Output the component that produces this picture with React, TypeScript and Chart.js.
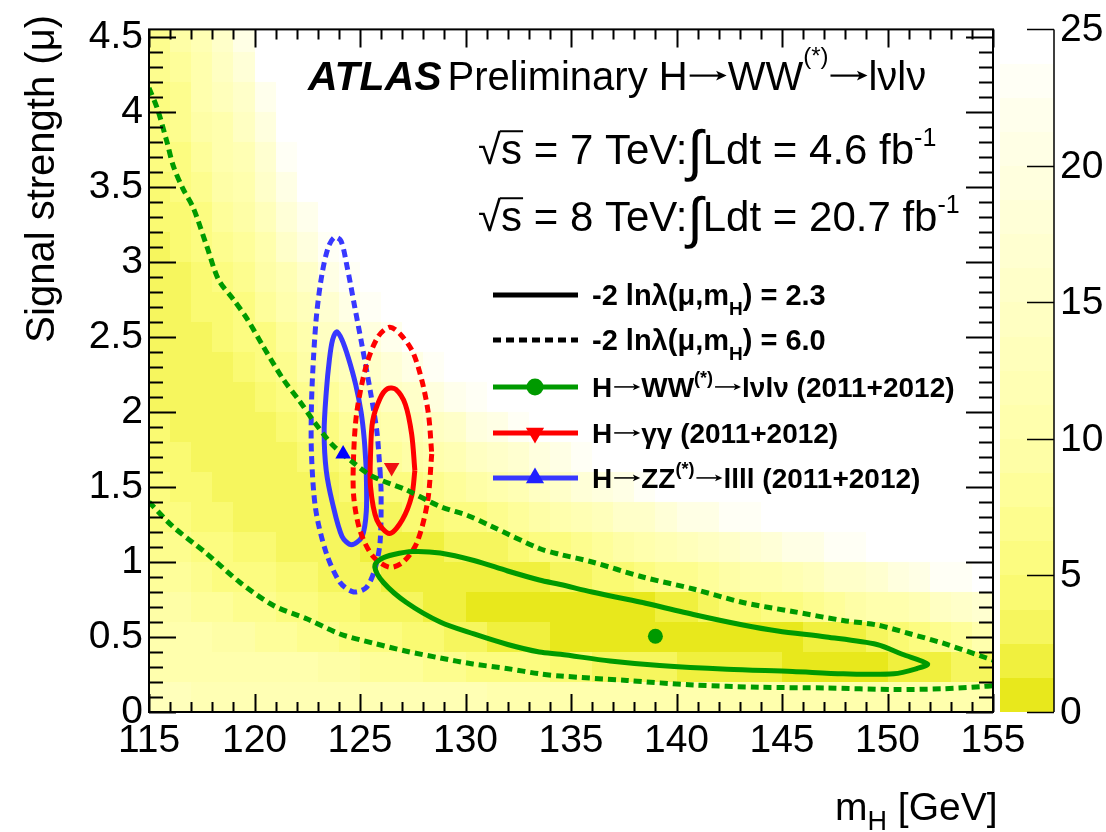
import React, { useEffect, useRef } from 'react';
import { Chart, registerables } from 'chart.js';

Chart.register(...registerables);

const FONT = "'Liberation Sans', Arial, Helvetica, sans-serif";

// ---------------- axes ----------------
const xRange = [115, 155];
const yRange = [0, 4.55];
const zRange = [0, 25];
const xMajorTicks = [115, 120, 125, 130, 135, 140, 145, 150, 155];
const yMajorTicks = [0, 0.5, 1, 1.5, 2, 2.5, 3, 3.5, 4, 4.5];
const zMajorTicks = [0, 5, 10, 15, 20, 25];

// ---------------- heat map: -2 ln lambda ----------------
const heatMassEdges = [115, 116, 117, 118, 119, 120, 121, 122, 123, 124, 125, 126, 127, 128, 129, 130, 131, 132, 133, 134, 135,
  136, 137, 138, 139, 140, 141, 142, 143, 144, 145, 146, 147, 148, 149, 150, 151, 152, 153, 154, 155];
const heatMuEdges = [0, 0.2, 0.4, 0.6, 0.8, 1.0, 1.2, 1.4, 1.6, 1.8, 2.0, 2.2, 2.4, 2.6, 2.8, 3.0, 3.2, 3.4, 3.6, 3.8, 4.0, 4.2, 4.4, 4.6];
// one row per mu bin (bottom first), one value per 1 GeV mass bin; cells not listed are above the z range (white)
const heatRow00 = [13, 13, 12, 12, 12, 12, 12, 12, 12, 12, 12, 12, 12, 12, 12, 12, 11, 11, 11, 11, 11, 11, 11, 11, 11, 11, 11, 11, 11, 11, 11, 11, 11, 11, 11, 11, 11, 11, 11, 11];
const heatRow01 = [11, 11, 11, 11, 11, 10, 10, 10, 9, 9, 8, 8, 8, 7, 7, 6, 6, 5.6, 5.1, 4.5, 4.1, 3.7, 3.4, 3.0, 2.7, 2.4, 2.2, 2.0, 1.9, 1.7, 1.2, 1.1, 1.1, 1.1, 1.2, 1.4, 1.8, 2.4, 2.7, 3.4];
const heatRow02 = [10, 10, 10, 9, 9, 8, 8, 7, 7, 6, 5.5, 5.1, 4.5, 4.0, 3.4, 2.9, 2.4, 1.9, 1.5, 1.0, 0.7, 0.5, 0.3, 0.1, 0.0, 0.0, 0.1, 0.2, 0.4, 0.7, 1.0, 1.3, 1.8, 2.4, 3.2, 4.2, 6, 7, 8, 10];
const heatRow03 = [9, 9, 8, 8, 7, 7, 5.9, 5.3, 4.7, 4.1, 3.5, 3.1, 2.5, 2.0, 1.5, 1.2, 0.9, 0.6, 0.5, 0.4, 0.5, 0.6, 0.8, 1.2, 1.7, 2.3, 3.0, 3.9, 4.9, 6, 6, 7, 8, 9, 10, 11, 12, 14, 16, 17];
const heatRow04 = [8, 8, 7, 6, 5.7, 5.0, 4.4, 3.9, 3.4, 2.9, 2.5, 2.1, 1.8, 1.5, 1.3, 1.3, 1.3, 1.5, 1.9, 2.5, 3.2, 4.0, 4.9, 6, 7, 7, 8, 9, 10, 11, 12, 13, 15, 16, 17, 19, 21, 23, 23, 24];
const heatRow05 = [7, 7, 5.9, 5.3, 4.6, 4.0, 3.4, 3.0, 2.7, 2.5, 2.4, 2.3, 2.2, 2.3, 2.6, 3.0, 3.5, 4.4, 5.6, 6, 7, 8, 9, 10, 12, 13, 14, 15, 17, 18, 20, 21, 23, 23, 24, 24];
const heatRow06 = [6, 5.6, 4.9, 4.3, 3.7, 3.3, 2.9, 2.8, 2.7, 2.9, 3.2, 3.5, 3.9, 4.5, 5.2, 6, 7, 8, 9, 10, 12, 13, 15, 16, 18, 20, 21, 23, 23, 24, 24];
const heatRow07 = [5.3, 4.8, 4.2, 3.6, 3.2, 2.9, 2.9, 3.0, 3.4, 4.1, 4.9, 5.7, 6, 7, 8, 9, 11, 12, 14, 16, 18, 19, 21, 23, 24, 24];
const heatRow08 = [4.7, 4.1, 3.6, 3.2, 2.9, 2.9, 3.3, 3.9, 4.7, 6, 7, 8, 9, 10, 12, 14, 15, 17, 19, 21, 23, 24, 24];
const heatRow09 = [4.1, 3.7, 3.2, 3.0, 3.0, 3.3, 4.1, 5.3, 6, 8, 9, 11, 12, 14, 16, 19, 21, 23, 24, 24];
const heatRow10 = [3.7, 3.3, 3.1, 3.1, 3.4, 4.1, 5.5, 7, 8, 10, 12, 14, 16, 19, 22, 23, 24];
const heatRow11 = [3.5, 3.2, 3.1, 3.4, 4.0, 5.2, 7, 9, 11, 13, 16, 18, 21, 23, 24];
const heatRow12 = [3.3, 3.2, 3.4, 4.0, 5.0, 6, 8, 11, 14, 17, 19, 22, 24];
const heatRow13 = [3.3, 3.3, 3.8, 4.8, 6, 8, 10, 13, 17, 20, 23];
const heatRow14 = [3.4, 3.6, 4.5, 5.9, 7, 9, 12, 16, 20, 23];
const heatRow15 = [3.6, 4.1, 5.4, 7, 8, 11, 15, 19, 23];
const heatRow16 = [3.9, 4.8, 6, 8, 9, 13, 18, 22];
const heatRow17 = [4.4, 5.6, 7, 9, 11, 15, 20, 24];
const heatRow18 = [5.0, 6, 8, 10, 12, 17, 23];
const heatRow19 = [5.7, 7, 9, 11, 14, 19, 24];
const heatRow20 = [6, 7, 10, 13, 16, 22];
const heatRow21 = [7, 8, 11, 14, 18, 24];
const heatRow22 = [7, 9, 12, 16, 20];
const heatRows = [heatRow00, heatRow01, heatRow02, heatRow03, heatRow04, heatRow05, heatRow06, heatRow07, heatRow08, heatRow09,
  heatRow10, heatRow11, heatRow12, heatRow13, heatRow14, heatRow15, heatRow16, heatRow17, heatRow18, heatRow19, heatRow20, heatRow21, heatRow22];

// palette: 20 contour levels of 1.25 between 0 and 25
const paletteColors = ['#e8e81c', '#f0f03e', '#f6f65e', '#fafa72', '#fcfc80', '#fdfd8e', '#fefe9a', '#fefea6', '#ffffad', '#ffffb4',
  '#ffffbb', '#ffffc2', '#ffffc9', '#ffffd0', '#ffffd7', '#ffffde', '#ffffe5', '#ffffec', '#fffff5', '#ffffff'];
const paletteStep = 1.25;

// ---------------- contours (mH [GeV], mu) ----------------
const wwContour23 = [[138.4, 0.73], [140.8, 0.65], [143.15, 0.58], [144.8, 0.54], [147.1, 0.50], [149.5, 0.45], [150.7, 0.385],
  [151.9, 0.32], [151.4, 0.29], [150.3, 0.255], [147.9, 0.255], [145.5, 0.27], [142.4, 0.285], [139.2, 0.31], [136.85, 0.34], [134.5, 0.385],
  [133.5, 0.40], [132.0, 0.45], [130.4, 0.52], [128.8, 0.60], [127.2, 0.73], [126.1, 0.865], [125.7, 0.97], [126.0, 1.02], [126.6, 1.05],
  [127.5, 1.07], [128.8, 1.06], [130.4, 1.01], [132.0, 0.94], [133.5, 0.88], [134.5, 0.85], [136.0, 0.80], [138.4, 0.73]];
const wwContour60Upper = [[115, 4.16], [115.4, 4.02], [115.85, 3.80], [116.15, 3.64], [116.6, 3.49], [117.1, 3.36], [117.75, 3.10], [118.3, 2.88],
  [119.0, 2.75], [119.65, 2.62], [120.4, 2.44], [121.35, 2.22], [122.15, 2.07], [122.8, 1.94], [123.7, 1.78], [124.7, 1.66], [125.6, 1.57],
  [127.2, 1.48], [128.8, 1.37], [130.1, 1.31], [131.2, 1.24], [133.5, 1.09], [134.5, 1.05], [136.0, 1.00], [138.4, 0.90], [140.8, 0.82],
  [143.15, 0.73], [145.5, 0.67], [147.9, 0.61], [149.5, 0.58], [151.1, 0.52], [152.6, 0.46], [154.7, 0.36], [155, 0.345]];
const wwContour60Lower = [[115, 1.40], [116.1, 1.24], [117.7, 1.06], [119.3, 0.865], [120.9, 0.71], [122.5, 0.62], [124.05, 0.52], [125.6, 0.46],
  [127.2, 0.405], [128.8, 0.36], [130.35, 0.32], [131.95, 0.29], [133.5, 0.255], [134.5, 0.24], [137.65, 0.21], [140.8, 0.18], [143.95, 0.165],
  [147.1, 0.16], [150.3, 0.15], [152.6, 0.155], [154.5, 0.17], [155, 0.175]];
const zzContour23 = [[125.3, 1.61], [125.3, 1.34], [125.1, 1.17], [124.6, 1.115], [124.15, 1.17], [123.7, 1.39], [123.4, 1.61], [123.3, 1.87],
  [123.4, 2.13], [123.55, 2.35], [123.7, 2.48], [123.9, 2.535], [124.15, 2.48], [124.45, 2.36], [124.8, 2.18], [125.05, 2.0], [125.2, 1.82], [125.3, 1.61]];
const zzContour60 = [[125.95, 1.61], [126.0, 1.46], [125.95, 1.13], [125.7, 0.95], [125.3, 0.83], [124.7, 0.80], [124.05, 0.865], [123.4, 1.06],
  [122.9, 1.35], [122.7, 1.72], [122.7, 2.05], [122.8, 2.37], [122.95, 2.66], [123.2, 2.92], [123.5, 3.1], [123.8, 3.165], [124.1, 3.14],
  [124.4, 2.96], [124.75, 2.70], [125.1, 2.44], [125.5, 2.13], [125.8, 1.87], [125.95, 1.61]];
const ggContour23 = [[127.6, 1.61], [127.45, 1.44], [127.0, 1.28], [126.4, 1.19], [125.8, 1.28], [125.5, 1.50], [125.5, 1.72], [125.6, 1.94],
  [125.95, 2.09], [126.3, 2.155], [126.7, 2.15], [127.15, 2.05], [127.45, 1.85], [127.6, 1.61]];
const ggContour60 = [[128.4, 1.72], [128.2, 1.40], [127.7, 1.13], [127.05, 1.0], [126.4, 0.965], [125.6, 1.04], [125.0, 1.21], [124.7, 1.44],
  [124.7, 1.72], [124.85, 2.00], [125.3, 2.31], [125.85, 2.50], [126.4, 2.565], [126.9, 2.52], [127.5, 2.40], [127.95, 2.20], [128.25, 1.98], [128.4, 1.72]];
const wwBestFit = [[139.0, 0.505]];
const ggBestFit = [[126.5, 1.63]];
const zzBestFit = [[124.2, 1.72]];

// ---------------- styles ----------------
const GREEN = '#009a00';
const RED = '#ff0000';
const BLUE = '#3838ff';
const DASH = [8, 5];

const pts = (a: number[][]) => a.map(([x, y]) => ({ x, y }));

type Seg = { t?: string; size: number; bold?: boolean; italic?: boolean; dy?: number; gap?: number; over?: boolean; arrow?: number };

function font(s: Seg) {
  return `${s.italic ? 'italic ' : ''}${s.bold ? 'bold ' : ''}${s.size}px ${FONT}`;
}

function drawSegs(ctx: CanvasRenderingContext2D, x: number, y: number, segs: Seg[]) {
  let cx = x;
  for (const s of segs) {
    if (s.arrow) {
      // thin symbol-font style arrow
      const ay = y - s.size * 0.36;
      const L = s.arrow;
      const head = s.size * 0.22;
      ctx.save();
      ctx.strokeStyle = ctx.fillStyle as string;
      ctx.lineWidth = Math.max(1.5, s.size * 0.055);
      ctx.beginPath();
      ctx.moveTo(cx + 2, ay);
      ctx.lineTo(cx + L - head * 0.8, ay);
      ctx.stroke();
      ctx.beginPath();
      ctx.moveTo(cx + L - 1, ay);
      ctx.lineTo(cx + L - 1 - head * 1.2, ay - head * 0.55);
      ctx.lineTo(cx + L - 1 - head * 0.9, ay);
      ctx.lineTo(cx + L - 1 - head * 1.2, ay + head * 0.55);
      ctx.closePath();
      ctx.fill();
      ctx.restore();
      cx += L;
      continue;
    }
    ctx.font = font(s);
    ctx.fillText(s.t as string, cx, y + (s.dy || 0));
    const w = ctx.measureText(s.t as string).width;
    if (s.over) {
      ctx.save();
      ctx.lineWidth = 2;
      ctx.beginPath();
      ctx.moveTo(cx - 1, y - s.size * 0.78);
      ctx.lineTo(cx + w + 1, y - s.size * 0.78);
      ctx.stroke();
      ctx.restore();
    }
    cx += w + (s.gap || 0);
  }
  return cx;
}

function drawMarker(ctx: CanvasRenderingContext2D, kind: string, x: number, y: number, r: number, color: string) {
  ctx.save();
  ctx.fillStyle = color;
  ctx.beginPath();
  if (kind === 'circle') {
    ctx.arc(x, y, r, 0, Math.PI * 2);
  } else if (kind === 'up') {
    ctx.moveTo(x, y - r);
    ctx.lineTo(x + r * 0.866, y + r * 0.5);
    ctx.lineTo(x - r * 0.866, y + r * 0.5);
  } else {
    ctx.moveTo(x, y + r);
    ctx.lineTo(x + r * 0.866, y - r * 0.5);
    ctx.lineTo(x - r * 0.866, y - r * 0.5);
  }
  ctx.closePath();
  ctx.fill();
  ctx.restore();
}

const heatPlugin = {
  id: 'heat',
  beforeDatasetsDraw(chart: any) {
    const { ctx, chartArea: a, scales } = chart;
    const x = scales.x, y = scales.y;
    ctx.save();
    ctx.beginPath();
    ctx.rect(a.left, a.top, a.right - a.left, a.bottom - a.top);
    ctx.clip();
    heatRows.forEach((row, r) => {
      const y0 = Math.round(y.getPixelForValue(heatMuEdges[r]));
      const y1 = Math.round(y.getPixelForValue(heatMuEdges[r + 1]));
      row.forEach((v, j) => {
        const lvl = Math.min(paletteColors.length - 1, Math.floor(v / paletteStep));
        const x0 = Math.round(x.getPixelForValue(heatMassEdges[j]));
        const x1 = Math.round(x.getPixelForValue(heatMassEdges[j + 1]));
        ctx.fillStyle = paletteColors[lvl];
        ctx.fillRect(x0, y1, x1 - x0, y0 - y1);
      });
    });
    ctx.restore();
  },
  afterDraw(chart: any) {
    const { ctx, chartArea: a, scales } = chart;
    const x = scales.x, y = scales.y, z = scales.z;
    ctx.save();
    // frame
    ctx.strokeStyle = '#000';
    ctx.lineWidth = 2;
    ctx.strokeRect(a.left, a.top, a.right - a.left, a.bottom - a.top);
    // inner ticks
    ctx.beginPath();
    for (let m = xRange[0]; m <= xRange[1] + 1e-9; m += 1) {
      const px = Math.round(x.getPixelForValue(m)) + 0.5;
      const len = Math.abs(m % 5) < 1e-9 ? 18 : 10;
      ctx.moveTo(px, a.bottom); ctx.lineTo(px, a.bottom - len);
      ctx.moveTo(px, a.top); ctx.lineTo(px, a.top + len);
    }
    for (let k = 0; k <= 45; k++) {
      const py = Math.round(y.getPixelForValue(k / 10)) + 0.5;
      const len = k % 5 === 0 ? 27 : 14;
      ctx.moveTo(a.left, py); ctx.lineTo(a.left + len, py);
      ctx.moveTo(a.right, py); ctx.lineTo(a.right - len, py);
    }
    ctx.stroke();

    // colour bar
    const barL = a.right + 7, barR = a.right + 61;
    for (let k = 0; k < paletteColors.length; k++) {
      const y0 = Math.round(z.getPixelForValue(k * paletteStep));
      const y1 = Math.round(z.getPixelForValue((k + 1) * paletteStep));
      ctx.fillStyle = paletteColors[k];
      ctx.fillRect(barL, y1, barR - barL, y0 - y1);
    }
    ctx.lineWidth = 1.5;
    ctx.beginPath();
    ctx.moveTo(barR, z.getPixelForValue(zRange[0]));
    ctx.lineTo(barR, z.getPixelForValue(zRange[1]));
    zMajorTicks.forEach((v) => {
      const py = Math.round(z.getPixelForValue(v)) + 0.5;
      ctx.moveTo(barR - 27, py); ctx.lineTo(barR, py);
    });
    ctx.stroke();
    ctx.fillStyle = '#000';
    ctx.font = `39px ${FONT}`;
    ctx.textAlign = 'left';
    ctx.textBaseline = 'middle';
    zMajorTicks.forEach((v) => ctx.fillText(String(v), barR + 6, z.getPixelForValue(v) + 1));

    // axis titles
    ctx.textBaseline = 'alphabetic';
    ctx.save();
    ctx.translate(54, 15);
    ctx.rotate(-Math.PI / 2);
    ctx.textAlign = 'right';
    ctx.font = `40px ${FONT}`;
    ctx.fillText('Signal strength (\u03bc)', 0, 0);
    ctx.restore();
    ctx.textAlign = 'left';
    drawSegs(ctx, 835, 820, [
      { t: 'm', size: 39 },
      { t: 'H', size: 27, dy: 10 },
      { t: ' [GeV]', size: 39 },
    ]);

    // header texts
    drawSegs(ctx, 308, 90, [
      { t: 'ATLAS', size: 41, bold: true, italic: true, gap: 6 },
      { t: 'Preliminary H', size: 40 },
      { arrow: 40, size: 40 },
      { t: 'WW', size: 40 },
      { t: '(*)', size: 24, dy: -26 },
      { arrow: 40, size: 40 },
      { t: 'l\u03bdl\u03bd', size: 40 },
    ]);
    drawSegs(ctx, 478, 164, [
      { t: '\u221a', size: 42 },
      { t: 's', size: 42, over: true },
      { t: ' = 7 TeV:', size: 42 },
      { t: '\u222b', size: 56, dy: 6 },
      { t: 'Ldt = 4.6 fb', size: 42 },
      { t: '-1', size: 25, dy: -18 },
    ]);
    drawSegs(ctx, 478, 231, [
      { t: '\u221a', size: 42 },
      { t: 's', size: 42, over: true },
      { t: ' = 8 TeV:', size: 42 },
      { t: '\u222b', size: 56, dy: 6 },
      { t: 'Ldt = 20.7 fb', size: 42 },
      { t: '-1', size: 25, dy: -18 },
    ]);

    // legend
    const arrow = { arrow: 29, size: 28 };
    const rows = [
      { y: 295, color: '#000', dash: [] as number[], marker: '', segs: [{ t: '-2 ln\u03bb(\u03bc,m', size: 29, bold: true }, { t: 'H', size: 19, bold: true, dy: 10 }, { t: ') = 2.3', size: 29, bold: true }] },
      { y: 340, color: '#000', dash: DASH, marker: '', segs: [{ t: '-2 ln\u03bb(\u03bc,m', size: 29, bold: true }, { t: 'H', size: 19, bold: true, dy: 10 }, { t: ') = 6.0', size: 29, bold: true }] },
      { y: 387, color: GREEN, dash: [] as number[], marker: 'circle', mcolor: GREEN, segs: [{ t: 'H', size: 28, bold: true }, arrow, { t: 'WW', size: 28, bold: true }, { t: '(*)', size: 18, bold: true, dy: -13 }, arrow, { t: 'l\u03bdl\u03bd (2011+2012)', size: 28, bold: true }] },
      { y: 433, color: RED, dash: [] as number[], marker: 'down', mcolor: RED, segs: [{ t: 'H', size: 28, bold: true }, arrow, { t: '\u03b3\u03b3 (2011+2012)', size: 28, bold: true }] },
      { y: 478, color: BLUE, dash: [] as number[], marker: 'up', mcolor: '#2020ff', segs: [{ t: 'H', size: 28, bold: true }, arrow, { t: 'ZZ', size: 28, bold: true }, { t: '(*)', size: 18, bold: true, dy: -13 }, arrow, { t: 'llll (2011+2012)', size: 28, bold: true }] },
    ];
    rows.forEach((rw: any) => {
      ctx.save();
      ctx.strokeStyle = rw.color;
      ctx.lineWidth = 5;
      ctx.setLineDash(rw.dash);
      ctx.beginPath();
      ctx.moveTo(493, rw.y);
      ctx.lineTo(578, rw.y);
      ctx.stroke();
      ctx.restore();
      if (rw.marker) drawMarker(ctx, rw.marker, 535, rw.y, rw.marker === 'circle' ? 8.5 : 10.5, rw.mcolor);
      ctx.fillStyle = '#000';
      drawSegs(ctx, 592, rw.y + 10, rw.segs);
    });
    ctx.restore();
  },
};

function buildConfig(): any {
  const line = (data: number[][], color: string, dashed: boolean) => ({
    type: 'scatter',
    data: pts(data),
    showLine: true,
    borderColor: color,
    backgroundColor: color,
    borderWidth: 5,
    borderDash: dashed ? DASH : [],
    pointRadius: 0,
    tension: 0.3,
    fill: false,
  });
  const marker = (data: number[][], color: string, style: string, rot: number, r: number) => ({
    type: 'scatter',
    data: pts(data),
    showLine: false,
    pointStyle: style,
    pointRotation: rot,
    pointRadius: r,
    borderWidth: 0,
    borderColor: color,
    backgroundColor: color,
  });
  return {
    type: 'scatter',
    data: {
      datasets: [
        marker(wwBestFit, GREEN, 'circle', 0, 7.5),
        marker(ggBestFit, '#f01010', 'triangle', 180, 9),
        marker(zzBestFit, '#0000ff', 'triangle', 0, 9),
        line(wwContour23, GREEN, false),
        line(wwContour60Upper, GREEN, true),
        line(wwContour60Lower, GREEN, true),
        line(ggContour23, RED, false),
        line(ggContour60, RED, true),
        line(zzContour23, BLUE, false),
        line(zzContour60, BLUE, true),
      ],
    },
    options: {
      responsive: false,
      animation: false,
      devicePixelRatio: 1,
      layout: { padding: { left: 0, top: 19, right: 113, bottom: 0 } },
      plugins: { legend: { display: false }, tooltip: { enabled: false }, title: { display: false } },
      scales: {
        x: {
          type: 'linear',
          min: xRange[0],
          max: xRange[1],
          grid: { display: false, drawTicks: false },
          border: { display: false },
          afterBuildTicks: (s: any) => { s.ticks = xMajorTicks.map((v) => ({ value: v })); },
          afterFit: (s: any) => { s.height = 120; },
          ticks: { color: '#000', font: { family: FONT, size: 39 }, padding: 6, autoSkip: false, maxRotation: 0, callback: (v: number) => String(v) },
        },
        y: {
          type: 'linear',
          min: yRange[0],
          max: yRange[1],
          grid: { display: false, drawTicks: false },
          border: { display: false },
          afterBuildTicks: (s: any) => { s.ticks = yMajorTicks.map((v) => ({ value: v })); },
          afterFit: (s: any) => { s.width = 149; },
          ticks: { color: '#000', font: { family: FONT, size: 39 }, padding: 6, autoSkip: false, callback: (v: number) => String(v) },
        },
        z: {
          type: 'linear',
          display: false,
          position: 'right',
          min: zRange[0],
          max: zRange[1],
        },
      },
    },
    plugins: [heatPlugin],
  };
}

export default function App() {
  const ref = useRef<HTMLCanvasElement | null>(null);
  useEffect(() => {
    const chart = new Chart(ref.current as HTMLCanvasElement, buildConfig());
    return () => chart.destroy();
  }, []);
  return (
    <div style={{ position: 'fixed', left: 0, top: 0, width: 1106, height: 832, background: '#fff' }}>
      <canvas ref={ref} width={1106} height={832} style={{ display: 'block', width: 1106, height: 832 }} />
    </div>
  );
}
